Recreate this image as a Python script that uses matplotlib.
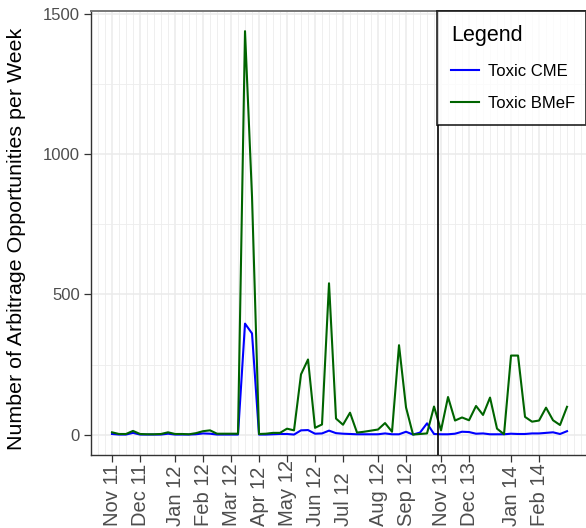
import matplotlib
matplotlib.use("Agg")
import matplotlib.pyplot as plt
import numpy as np

# ---------------- data ----------------
week_index = list(range(66))
toxic_cme = [2, 0, 0, 6, 0, 0, 0, 0, 3, 0, 0, 0, 1, 4, 3, 0, 0, 0, 0, 396,
             361, 0, 0, 1, 2, 2, 0, 15, 16, 3, 4, 14, 5, 3, 2, 1, 1, 1, 1, 4,
             1, 1, 10, 0, 7, 40, 2, 1, 1, 3, 10, 9, 3, 4, 1, 1, 1, 3, 2, 2,
             4, 4, 6, 8, 2, 12]
toxic_bmef = [8, 2, 2, 13, 2, 1, 1, 2, 8, 2, 2, 1, 5, 12, 15, 3, 3, 3, 3, 1440,
              850, 2, 3, 6, 6, 21, 15, 215, 268, 24, 36, 540, 57, 35, 78, 7, 10, 14, 18, 41,
              10, 319, 97, 0, 2, 4, 100, 15, 134, 50, 61, 51, 102, 70, 132, 21, 1, 282, 282, 63,
              46, 50, 96, 51, 34, 99]
tick_positions = [0, 4, 9, 13, 17, 21, 25, 29, 33, 38, 42, 47, 51, 57, 61]
tick_labels = ["Nov 11", "Dec 11", "Jan 12", "Feb 12", "Mar 12", "Apr 12", "May 12",
               "Jun 12", "Jul 12", "Aug 12", "Sep 12", "Nov 13", "Dec 13", "Jan 14", "Feb 14"]
break_position = 46.5
y_ticks = [0, 500, 1000, 1500]
y_minor = [250, 750, 1250]
series_names = ["Toxic CME", "Toxic BMeF"]
series_colors = ["#0000FF", "#006400"]

# ---------------- figure ----------------
plt.rcParams['font.family'] = ['Liberation Sans', 'DejaVu Sans']
W, H = 586, 528
fig = plt.figure(figsize=(W / 100, H / 100), dpi=100)
ax = fig.add_axes([91 / W, 1 - 455 / H, (586 - 91) / W, (455 - 11) / H])

ax.set_xlim(-3.0, 67.71)
ax.set_ylim(-73, 1512)

# grid
ax.set_xticks(tick_positions)
ax.set_xticks(np.arange(-3, 68), minor=True)
ax.set_yticks(y_ticks)
ax.set_yticks(y_minor, minor=True)
ax.grid(which='major', color='#EBEBEB', linewidth=1.1, zorder=0)
ax.grid(which='minor', color='#EDEDED', linewidth=0.6, zorder=0)
ax.set_axisbelow(True)

# lines
ax.plot(week_index, toxic_cme, color=series_colors[0], linewidth=1.5, label=series_names[0], zorder=3)
ax.plot(week_index, toxic_bmef, color=series_colors[1], linewidth=1.5, label=series_names[1], zorder=3)
ax.axvline(break_position, color='black', linewidth=1.2, zorder=4)

# ticks
ax.set_xticklabels(tick_labels, rotation=90, va='bottom', ha='center')
ax.set_yticklabels([str(v) for v in y_ticks])
ax.tick_params(axis='both', which='major', colors='#333333', labelcolor='#4D4D4D',
               length=5, width=0.9)
ax.tick_params(axis='y', which='major', labelsize=12, pad=3)
ax.tick_params(axis='x', which='major', labelsize=14.5, pad=46)
ax.tick_params(which='minor', length=0)

for name, sp in ax.spines.items():
    sp.set_color('#333333')
    sp.set_linewidth(1.0)
ax.spines['top'].set_color('#777777')
ax.spines['top'].set_linewidth(1.4)
ax.spines['right'].set_visible(False)

ax.set_ylabel("Number of Arbitrage Opportunities per Week", fontsize=15.4, color='black')
ax.yaxis.set_label_coords((26 - 91) / 495, (455 - 238.5) / 444)

# legend
leg = ax.legend(title="Legend", loc='upper left', mode='expand',
                bbox_to_anchor=(437 / W, (528 - 125) / H, 149 / W, 114 / H),
                bbox_transform=fig.transFigure, borderaxespad=0,
                fontsize=12, title_fontsize=15.5, frameon=True, fancybox=False,
                handlelength=1.65, handletextpad=0.55, labelspacing=1.05, borderpad=0.85,
                alignment='left')
leg.get_frame().set_edgecolor('black')
leg.get_frame().set_linewidth(1.3)
leg.set_zorder(10)

fig.savefig("out.png", dpi=100)
